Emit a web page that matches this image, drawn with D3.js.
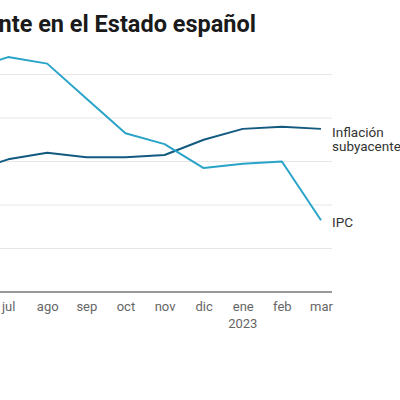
<!DOCTYPE html>
<html>
<head>
<meta charset="utf-8">
<script src="https://cdn.jsdelivr.net/npm/d3@7"></script>
<style>
  body { margin: 0; background: #fff; }
  svg { display: block; font-family: Roboto, "Noto Sans", sans-serif; }
</style>
</head>
<body>
<div id="chart"></div>
<script>
// Months shown (chart is cropped on the left, jun sits off-screen)
const months = ['jun', 'jul', 'ago', 'sep', 'oct', 'nov', 'dic', 'ene', 'feb', 'mar'];
const tickMonths = ['jul', 'ago', 'sep', 'oct', 'nov', 'dic', 'ene', 'feb', 'mar'];
const ipc = [10.2, 10.8, 10.5, 8.9, 7.3, 6.8, 5.7, 5.9, 6.0, 3.3];
const subyacente = [5.5, 6.1, 6.4, 6.2, 6.2, 6.3, 7.0, 7.5, 7.6, 7.5];
const gridValues = [2, 4, 6, 8, 10];

const width = 400, height = 400;

const svg = d3.select("#chart").append("svg")
  .attr("width", width)
  .attr("height", height);

// Title (cut by the left edge like the original)
svg.append("text")
  .attr("x", 256)
  .attr("y", 32)
  .attr("text-anchor", "end")
  .attr("fill", "#1a1a1a")
  .attr("font-size", "23.5px")
  .attr("font-weight", "700")
  .text("IPC e inflación subyacente en el Estado español");

// Scales
const x = d3.scalePoint()
  .domain(months)
  .range([-31, 321]);

const y = d3.scaleLinear()
  .domain([0, 10])
  .range([292, 74.5]);

// Grid lines
svg.append("g")
  .selectAll("line")
  .data(gridValues)
  .enter()
  .append("line")
  .attr("x1", -40)
  .attr("x2", 332)
  .attr("y1", d => y(d))
  .attr("y2", d => y(d))
  .attr("stroke", "#e6e6e6")
  .attr("stroke-width", 1);

// Baseline
svg.append("line")
  .attr("x1", -40)
  .attr("x2", 332)
  .attr("y1", y(0))
  .attr("y2", y(0))
  .attr("stroke", "#333")
  .attr("stroke-width", 1.2);

// X axis labels
const xAxis = svg.append("g")
  .attr("transform", `translate(0, ${y(0)})`)
  .call(d3.axisBottom(x).tickValues(tickMonths).tickSize(0).tickPadding(10));
xAxis.select(".domain").remove();
xAxis.selectAll("text")
  .attr("fill", "#666")
  .attr("font-size", "13px")
  .attr("font-family", "Roboto, sans-serif");

svg.append("text")
  .attr("x", x('ene'))
  .attr("y", 328)
  .attr("text-anchor", "middle")
  .attr("fill", "#666")
  .attr("font-size", "13px")
  .text("2023");

// Lines
const line = d3.line()
  .x((d, i) => x(months[i]))
  .y(d => y(d));

svg.append("path")
  .datum(subyacente)
  .attr("fill", "none")
  .attr("stroke", "#135a80")
  .attr("stroke-width", 2)
  .attr("stroke-linejoin", "round")
  .attr("d", line);

svg.append("path")
  .datum(ipc)
  .attr("fill", "none")
  .attr("stroke", "#2aa3c9")
  .attr("stroke-width", 2)
  .attr("stroke-linejoin", "round")
  .attr("d", line);

// Line labels
const labelX = 332;
const lastIdx = months.length - 1;

const subLabel = svg.append("text")
  .attr("x", labelX)
  .attr("y", y(subyacente[lastIdx]) + 8)
  .attr("fill", "#333")
  .attr("font-size", "13.5px");
subLabel.append("tspan").attr("x", labelX).text("Inflación");
subLabel.append("tspan").attr("x", labelX).attr("dy", 14.5).text("subyacente");

svg.append("text")
  .attr("x", labelX)
  .attr("y", y(ipc[lastIdx]) + 7)
  .attr("fill", "#333")
  .attr("font-size", "13.5px")
  .text("IPC");
</script>
</body>
</html>
